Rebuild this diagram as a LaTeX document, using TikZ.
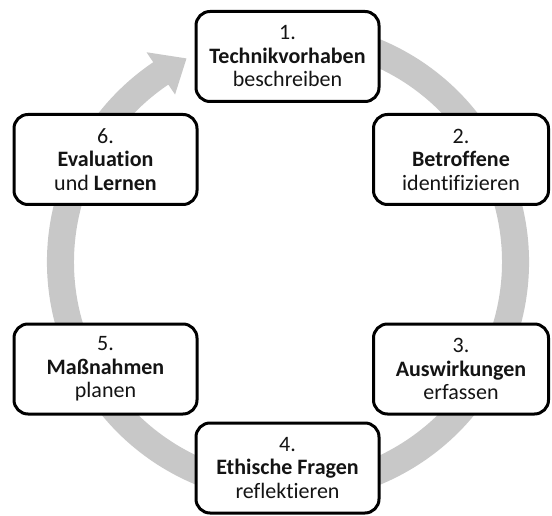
\documentclass[tikz,border=0pt]{standalone}
\usepackage{fontspec}
\setmainfont{Carlito}[Ligatures={NoCommon}]
\definecolor{arcgray}{RGB}{200,200,200}
\definecolor{txt}{RGB}{20,20,20}
\tikzset{
  stepbox/.style={draw=black, line width=3pt, fill=white, rounded corners=14pt,
    minimum width=183pt, minimum height=90pt, inner sep=0pt, align=center,
    text=txt, font=\fontsize{22}{23.5}\selectfont},
  narrowbox/.style={stepbox, minimum width=175pt}
}
\begin{document}
\begin{tikzpicture}[x=1pt,y=1pt]
\useasboundingbox (0,0) rectangle (552,515);
\begin{scope}[shift={(288,253)}]
\fill[arcgray] (68:241pt) arc[start angle=68,end angle=-236,radius=241pt]
  -- (124:253pt) -- (116.5:227.5pt) -- (124:202pt) -- (124:214pt)
  arc[start angle=-236,end angle=68,radius=214pt] -- cycle;
\end{scope}
\node[stepbox] (n1) at (287.5,458.5) {1.\\\textbf{Technikvorhaben}\\beschreiben};
\node[narrowbox] (n2) at (461,355.5) {2.\\\textbf{Betroffene}\\identifizieren};
\node[narrowbox] (n3) at (461,146) {3.\\\textbf{Auswirkungen}\\erfassen};
\node[stepbox] (n4) at (287.5,47) {4.\\\textbf{Ethische Fragen}\\reflektieren};
\node[stepbox] (n5) at (105.5,146) {5.\\\textbf{Maßnahmen}\\planen};
\node[stepbox] (n6) at (105.5,355.5) {6.\\\textbf{Evaluation}\\und \textbf{Lernen}};
\end{tikzpicture}
\end{document}
